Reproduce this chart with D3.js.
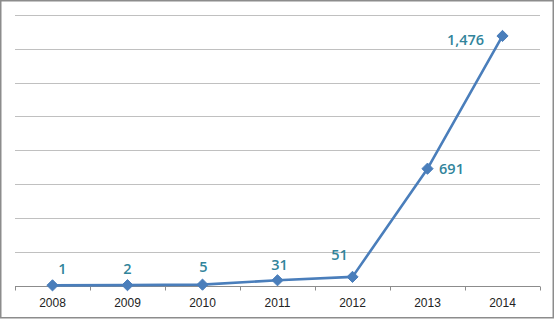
<!DOCTYPE html>
<html><head><meta charset="utf-8">
<script src="https://cdn.jsdelivr.net/npm/d3@7"></script>
<style>body{margin:0;background:#fff}svg{display:block}</style>
</head><body>
<svg id="c" width="555" height="319"></svg>
<script>
const years = ["2008","2009","2010","2011","2012","2013","2014"];
const values = [1, 2, 5, 31, 51, 691, 1476];
const labels = ["1","2","5","31","51","691","1,476"];
const yTicks = [0,200,400,600,800,1000,1200,1400,1600];

const W = 555, H = 319;
const m = {l:15, r:15, t:15, b:33};
const svg = d3.select("#c");

// frame
svg.append("rect").attr("x",0.75).attr("y",0.75).attr("width",552.5).attr("height",317)
  .attr("fill","#fff").attr("stroke","#8c8c8c").attr("stroke-width",1.5);

const x = d3.scaleBand().domain(years).range([m.l, 540]).padding(0);
const y = d3.scaleLinear().domain([0,1600]).range([285.5, 15]);

// gridlines
svg.append("g").selectAll("line").data(yTicks.slice(1)).join("line")
  .attr("x1",m.l).attr("x2",540)
  .attr("y1",d=>Math.round(y(d))+0.5).attr("y2",d=>Math.round(y(d))+0.5)
  .attr("stroke","#c0c0c0").attr("stroke-width",1.2);

// x axis
const xa = svg.append("g").attr("transform",`translate(0,${Math.round(y(0))+0.5})`);
xa.append("line").attr("x1",m.l).attr("x2",540).attr("stroke","#8c8c8c").attr("stroke-width",1);
const bounds = years.map(d=>x(d)).concat([x.range()[1]]);
xa.selectAll("line.tk").data(bounds).join("line").attr("class","tk")
  .attr("x1",d=>Math.round(d)+0.5).attr("x2",d=>Math.round(d)+0.5).attr("y1",0).attr("y2",4)
  .attr("stroke","#8c8c8c");
xa.selectAll("text").data(years).join("text")
  .attr("x",d=>x(d)+x.bandwidth()/2).attr("y",20.5)
  .attr("text-anchor","middle")
  .attr("font-family","Liberation Sans, Arial, sans-serif").attr("font-size",12)
  .attr("fill","#222").text(d=>d);

const cx = (d,i)=>x(years[i])+x.bandwidth()/2;
const line = d3.line().x((d,i)=>cx(d,i)).y(d=>y(d));
svg.append("path").datum(values).attr("d",line)
  .attr("fill","none").attr("stroke","#4a7ebb").attr("stroke-width",2.6).attr("stroke-linejoin","round");

svg.append("g").selectAll("path").data(values).join("path")
  .attr("transform",(d,i)=>`translate(${cx(d,i)},${y(d)})`)
  .attr("d",d3.symbol(d3.symbolDiamond2 || d3.symbolDiamond, 80))
  .attr("fill","#4a7ebb").attr("stroke","#4a7ebb");

// label placement offsets relative to marker
const labelOff = [[10,-11],[0,-11],[1,-13],[2,-10],[-13,-17],[24,5],[-37,9]];
svg.append("g").selectAll("text").data(values).join("text")
  .attr("x",(d,i)=>cx(d,i)+labelOff[i][0]).attr("y",(d,i)=>y(d)+labelOff[i][1])
  .attr("text-anchor","middle")
  .attr("font-family","Open Sans, Liberation Sans, sans-serif").attr("font-weight",600)
  .attr("font-size",14.5).attr("fill","#31849b").text((d,i)=>labels[i]);
</script>
</body></html>
